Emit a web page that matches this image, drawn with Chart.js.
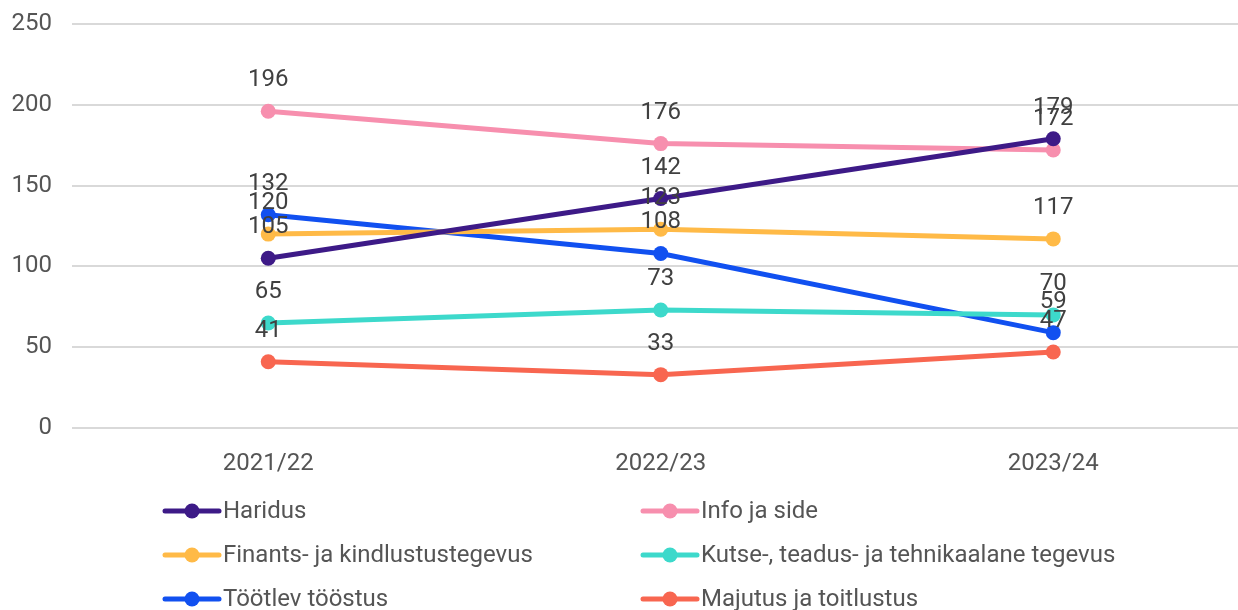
<!DOCTYPE html>
<html>
<head>
<meta charset="utf-8">
<script src="https://cdn.jsdelivr.net/npm/chart.js@4"></script>
<style>
  html, body { margin: 0; padding: 0; overflow: hidden; background: #fff; }
  #wrap { width: 1257px; height: 640px; }
</style>
</head>
<body>
<div id="wrap"><canvas id="myChart" width="1257" height="640"></canvas></div>
<script>
const years = ['2021/22', '2022/23', '2023/24'];
const yTicks = [0, 50, 100, 150, 200, 250];

const haridus = [105, 142, 179];
const infoJaSide = [196, 176, 172];
const finants = [120, 123, 117];
const kutse = [65, 73, 70];
const tootlev = [132, 108, 59];
const majutus = [41, 33, 47];

const seriesNames = [
    'Haridus',
    'Info ja side',
    'Finants- ja kindlustustegevus',
    'Kutse-, teadus- ja tehnikaalane tegevus',
    'Töötlev tööstus',
    'Majutus ja toitlustus'
];
const seriesData = [haridus, infoJaSide, finants, kutse, tootlev, majutus];
const seriesColors = ['#3d1a87', '#f78fae', '#ffba47', '#3dd9cb', '#1150f0', '#f86650'];

const FONT = 'Roboto, "Noto Sans", sans-serif';

// value labels above the points
const valueLabels = {
    id: 'valueLabels',
    afterDatasetsDraw(chart) {
        const ctx = chart.ctx;
        ctx.save();
        ctx.font = '24px ' + FONT;
        ctx.fillStyle = '#404040';
        ctx.textAlign = 'center';
        ctx.textBaseline = 'middle';
        chart.data.datasets.forEach((ds, i) => {
            chart.getDatasetMeta(i).data.forEach((pt, j) => {
                ctx.fillText(ds.data[j], pt.x, pt.y - 31);
            });
        });
        ctx.restore();
    }
};

// legend: line with a dot, two columns
const lineLegend = {
    id: 'lineLegend',
    afterDraw(chart) {
        const ctx = chart.ctx;
        ctx.save();
        ctx.font = '24px ' + FONT;
        ctx.textBaseline = 'middle';
        ctx.textAlign = 'left';
        chart.data.datasets.forEach((ds, i) => {
            const x0 = 165 + (i % 2) * 478;
            const y = 511 + Math.floor(i / 2) * 44;
            ctx.strokeStyle = ds.borderColor;
            ctx.lineWidth = 5;
            ctx.lineCap = 'round';
            ctx.beginPath();
            ctx.moveTo(x0, y);
            ctx.lineTo(x0 + 54, y);
            ctx.stroke();
            ctx.fillStyle = ds.borderColor;
            ctx.beginPath();
            ctx.arc(x0 + 27, y, 7.5, 0, Math.PI * 2);
            ctx.fill();
            ctx.fillStyle = '#555555';
            ctx.fillText(ds.label, x0 + 58, y + 1);
        });
        ctx.restore();
    }
};

const datasets = seriesNames.map((name, i) => ({
    label: name,
    data: seriesData[i],
    borderColor: seriesColors[i],
    backgroundColor: seriesColors[i],
    borderWidth: 5,
    pointRadius: 7.5,
    pointHoverRadius: 7.5,
    pointBorderWidth: 0,
    tension: 0,
    fill: false
}));

new Chart(document.getElementById('myChart'), {
    type: 'line',
    data: { labels: years, datasets: datasets },
    plugins: [valueLabels, lineLegend],
    options: {
        responsive: false,
        animation: false,
        events: [],
        layout: { padding: { top: 24, bottom: 162, left: 0, right: 0 } },
        plugins: {
            legend: { display: false },
            tooltip: { enabled: false }
        },
        scales: {
            x: {
                offset: true,
                grid: { display: false },
                border: { display: false },
                ticks: { color: '#555555', font: { family: FONT, size: 24 }, padding: 14 },
                afterFit(scale) {
                    scale.height = 50;
                    scale.paddingLeft = 0;
                    scale.paddingRight = 0;
                }
            },
            y: {
                min: yTicks[0],
                max: yTicks[yTicks.length - 1],
                afterBuildTicks(scale) { scale.ticks = yTicks.map(v => ({ value: v })); },
                grid: { color: '#d9d9d9', lineWidth: 2, drawTicks: false },
                border: { display: false },
                ticks: { color: '#555555', font: { family: FONT, size: 24 }, padding: 20 },
                afterFit(scale) {
                    scale.width = 72;
                    scale.paddingTop = 0;
                    scale.paddingBottom = 0;
                }
            }
        }
    }
});
</script>
</body>
</html>
